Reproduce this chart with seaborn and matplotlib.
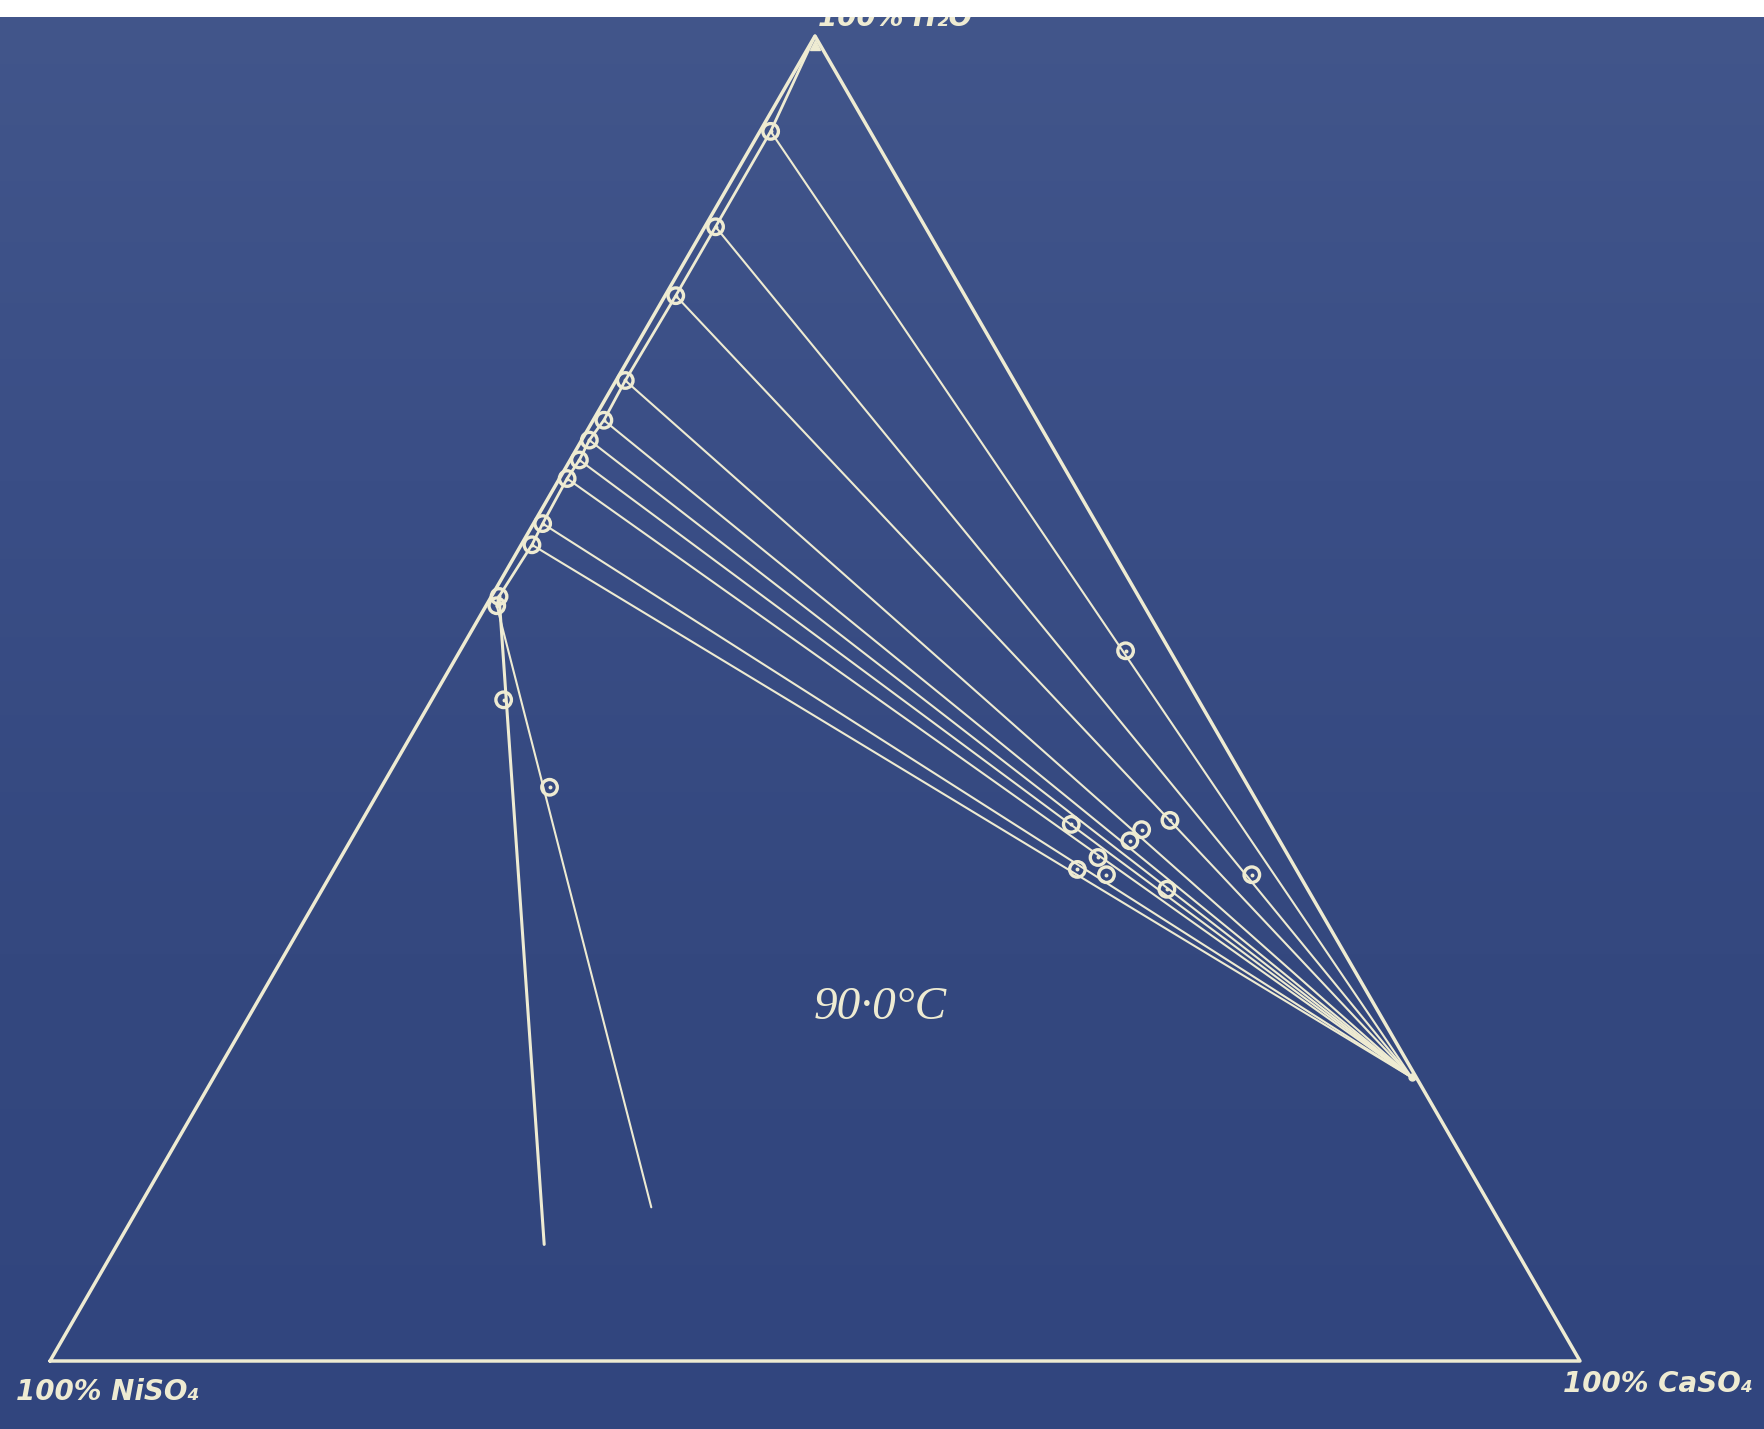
import numpy as np
import pandas as pd
import matplotlib
matplotlib.use("Agg")
import matplotlib.pyplot as plt
from matplotlib.patches import Rectangle
from matplotlib.colors import LinearSegmentedColormap
import seaborn as sns

# ---- data (mass %) -------------------------------------------------------
# saturated liquids, from pure water down to the invariant point
sol_h2o = [100.0, 92.8, 85.6, 80.4, 74.0, 71.0, 69.5, 68.0, 66.6, 63.2, 61.6, 57.7, 57.0]
sol_caso4 = [0.0, 0.7, 0.7, 0.7, 0.6, 0.7, 0.5, 0.6, 0.5, 0.6, 0.7, 0.5, 0.7]
sol_niso4 = [0.0, 6.5, 13.7, 18.9, 25.4, 28.3, 30.0, 31.4, 32.9, 36.2, 37.7, 41.8, 42.3]

# gypsum, CaSO4.2H2O – the common solid of the tie lines
gyp_h2o, gyp_caso4, gyp_niso4 = 21.4, 78.3, 0.3

# wet residues, one on each tie line (liquids 1..10)
res_h2o = [53.6, 36.7, 40.8, 40.1, 39.3, 35.6, 40.5, 38.0, 36.7, 37.1]
res_caso4 = [43.5, 60.2, 52.8, 51.3, 51.0, 55.2, 46.5, 49.5, 50.7, 48.6]
res_niso4 = [2.9, 3.1, 6.4, 8.6, 9.8, 9.2, 13.0, 12.5, 12.6, 14.3]

# residues of the nickel-rich liquids and the ends of their lines
low_res_h2o = [49.9, 43.3]
low_res_caso4 = [4.7, 11.0]
low_res_niso4 = [45.4, 45.7]
low_end_h2o = [8.8, 11.6]
low_end_caso4 = [27.9, 33.5]
low_end_niso4 = [63.3, 54.9]

vertex_labels = ["100% NiSO\u2084", "100% CaSO\u2084", "100% H\u2082O"]
temperature = "90\u00b70\u00b0C"

# ---- helpers -------------------------------------------------------------
S3 = np.sqrt(3) / 2


def to_xy(h2o, caso4, niso4):
    h = np.asarray(h2o, float)
    c = np.asarray(caso4, float)
    n = np.asarray(niso4, float)
    tot = h + c + n
    h, c = h / tot, c / tot
    return c + h / 2, h * S3


ink = "#eeebd2"

sns.set_theme(style="white")
plt.rcParams["font.family"] = ["DejaVu Sans"]

fig = plt.figure(figsize=(17.65, 14.29), dpi=100)
ax = fig.add_axes([0, 0, 1, 1])
x0, x1 = -50 / 1530, 1715 / 1530
y0, y1 = -68 / 1530, 1361 / 1530
ax.set_xlim(x0, x1)
ax.set_ylim(y0, y1)
ax.set_axis_off()

# blueprint paper
cmap = LinearSegmentedColormap.from_list("paper", ["#31457e", "#34487f", "#3a4e86", "#42568b"])
grad = np.linspace(0, 1, 256).reshape(-1, 1)
ax.imshow(grad, extent=(x0, x1, y0, y1), origin="lower", cmap=cmap,
          aspect="auto", zorder=0, interpolation="bicubic")

# triangle frame
tri = pd.DataFrame({"x": [0, 1, 0.5, 0], "y": [0, 0, S3, 0]})
sns.lineplot(data=tri, x="x", y="y", sort=False, estimator=None,
             color=ink, lw=2.5, ax=ax, zorder=3)

# saturation curve
sx, sy = to_xy(sol_h2o, sol_caso4, sol_niso4)
curve = pd.DataFrame({"x": sx, "y": sy})
sns.lineplot(data=curve, x="x", y="y", sort=False, estimator=None,
             color=ink, lw=2.0, ax=ax, zorder=3)

# tie lines to gypsum
gx, gy = to_xy(gyp_h2o, gyp_caso4, gyp_niso4)
rows = []
for i in range(1, 11):
    rows.append({"ray": i, "x": sx[i], "y": sy[i]})
    rows.append({"ray": i, "x": float(gx), "y": float(gy)})
ties = pd.DataFrame(rows)
sns.lineplot(data=ties, x="x", y="y", units="ray", estimator=None, sort=False,
             color=ink, lw=1.5, ax=ax, zorder=3)

# lines from the invariant liquids
ex, ey = to_xy(low_end_h2o, low_end_caso4, low_end_niso4)
low = pd.DataFrame({
    "line": [0, 0, 1, 1],
    "x": [sx[11], ex[0], sx[12], ex[1]],
    "y": [sy[11], ey[0], sy[12], ey[1]],
})
sns.lineplot(data=low[low.line == 0], x="x", y="y", sort=False, estimator=None,
             color=ink, lw=2.2, ax=ax, zorder=3)
sns.lineplot(data=low[low.line == 1], x="x", y="y", sort=False, estimator=None,
             color=ink, lw=1.5, ax=ax, zorder=3)

# circled points
rx, ry = to_xy(res_h2o, res_caso4, res_niso4)
lx, ly = to_xy(low_res_h2o, low_res_caso4, low_res_niso4)
pts = pd.DataFrame({
    "x": np.concatenate([sx[1:], rx, lx]),
    "y": np.concatenate([sy[1:], ry, ly]),
})
sns.scatterplot(data=pts, x="x", y="y", marker="o", s=125, color=ink, ax=ax,
                zorder=5, legend=False)
circ = ax.collections[-1]
circ.set_facecolor(pts.shape[0] * [(0, 0, 0, 0)])
circ.set_edgecolor(ink)
circ.set_linewidth(2.4)
sns.scatterplot(data=pts, x="x", y="y", marker="o", s=8, color=ink, ax=ax,
                zorder=5, legend=False, linewidth=0)

# corners: pure water and gypsum
ax.plot([0.5], [S3 - 0.006], marker="^", ms=7, color=ink, zorder=4)
ax.plot([gx], [gy], marker="o", ms=5, color=ink, zorder=4)

# labels
lab = dict(color=ink, style="italic", fontweight="bold", ha="center", va="center", zorder=6)
ax.text(0.0379, -0.0203, vertex_labels[0], fontsize=20, **lab)
ax.text(1.051, -0.0150, vertex_labels[1], fontsize=20, **lab)
ax.text(0.5523, 0.8780, vertex_labels[2], fontsize=20, **lab)
ax.text(0.5425, 0.2307, temperature, fontsize=34, family="Liberation Serif",
        **{k: v for k, v in lab.items() if k != "fontweight"})

# unexposed strip along the top edge of the print
fig.add_artist(Rectangle((0, 1 - 17 / 1429), 1, 17 / 1429, transform=fig.transFigure,
                         facecolor="white", edgecolor="none", zorder=20))

fig.savefig("out.png", dpi=100)
